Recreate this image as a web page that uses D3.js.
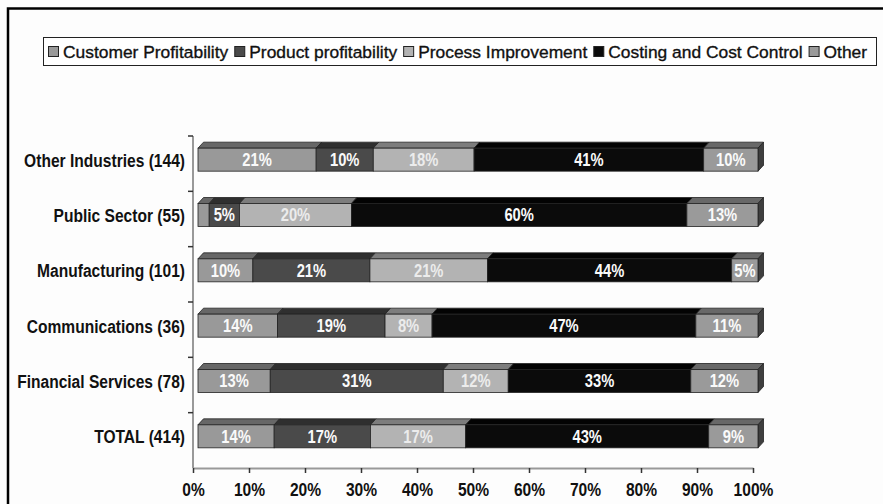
<!DOCTYPE html>
<html><head><meta charset="utf-8">
<script src="https://cdn.jsdelivr.net/npm/d3@7"></script>
<style>body{margin:0;background:#fff}svg{display:block}</style>
</head><body>
<svg id="c" width="883" height="504"></svg>
<script>
const categories = ["Other Industries (144)", "Public Sector (55)", "Manufacturing (101)", "Communications (36)", "Financial Services (78)", "TOTAL (414)"];
const seriesNames = ["Customer Profitability", "Product profitability", "Process Improvement", "Costing and Cost Control", "Other"];
const customer = [21.1, 2.0, 9.8, 14.2, 12.9, 13.6];
const product  = [10.2, 5.4, 20.9, 19.2, 30.9, 17.2];
const processI = [18.0, 20.0, 21.0, 8.4, 11.6, 17.0];
const costing  = [41.0, 59.9, 43.6, 47.1, 32.6, 43.4];
const other    = [9.7, 12.7, 4.7, 11.1, 12.0, 8.8];
const xTicks = [0, 10, 20, 30, 40, 50, 60, 70, 80, 90, 100];

const frontColors = ["#999999", "#4a4a4a", "#b3b3b3", "#0b0b0b", "#9a9a9a"];
const topColors   = ["#676767", "#2f2f2f", "#7d7d7d", "#030303", "#686868"];
const sideColor = "#3e3e3e";

const W = 883, H = 504;
const svg = d3.select("#c");
svg.append("rect").attr("width", W).attr("height", H).attr("fill", "#fdfdfd");
svg.append("rect").attr("x", 8).attr("y", 8.5).attr("width", W + 10).attr("height", H + 10)
  .attr("fill", "none").attr("stroke", "#000").attr("stroke-width", 2.5);

const sans = "'Liberation Sans',Arial,sans-serif";
const SQ = 0.82; // horizontal squeeze to mimic a narrow face

// Legend
const legend = svg.append("g");
legend.append("rect").attr("x", 43.5).attr("y", 37.5).attr("width", 833).attr("height", 28)
  .attr("fill", "#fff").attr("stroke", "#222").attr("stroke-width", 1);
let cx = 48;
seriesNames.forEach((name, i) => {
  legend.append("rect").attr("x", cx + 0.5).attr("y", 46.5).attr("width", 10).attr("height", 10)
    .attr("fill", frontColors[i]).attr("stroke", "#222").attr("stroke-width", 1);
  const t = legend.append("text").attr("x", cx + 15).attr("y", 57.5)
    .attr("font-family", sans).attr("font-size", 17.4).attr("fill", "#111")
    .attr("stroke", "#111").attr("stroke-width", 0.35)
    .text(name);
  cx = cx + 15 + t.node().getComputedTextLength() + 6;
});

// Scales
const x = d3.scaleLinear().domain([0, 100]).range([193, 753]);
const y = d3.scaleBand().domain(categories).range([136, 468]);
const dx = 5.5, dy = -6, faceOff = 5, faceH = 23;

const rows = categories.map((c, i) => ({cat: c, 0: customer[i], 1: product[i], 2: processI[i], 3: costing[i], 4: other[i]}));
const stacked = d3.stack().keys([0, 1, 2, 3, 4])(rows);

// Axes lines
svg.append("line").attr("x1", x(0)).attr("x2", x(0)).attr("y1", y.range()[0]).attr("y2", y.range()[1])
  .attr("stroke", "#999").attr("stroke-width", 2);
svg.append("g").selectAll("line").data(categories).join("line")
  .attr("x1", x(0) - 5).attr("x2", x(0)).attr("y1", d => y(d)).attr("y2", d => y(d))
  .attr("stroke", "#333").attr("stroke-width", 1.5);

const xAxis = svg.append("g").attr("transform", `translate(0,${y.range()[1]})`)
  .call(d3.axisBottom(x).tickValues(xTicks).tickFormat(d => d + "%").tickSize(5).tickSizeOuter(0).tickPadding(10));
xAxis.select(".domain").attr("stroke", "#999").attr("stroke-width", 2);
xAxis.selectAll(".tick line").attr("stroke", "#333").attr("stroke-width", 1.5);
xAxis.selectAll(".tick text").attr("font-family", sans).attr("font-weight", "bold")
  .attr("font-size", 19).attr("fill", "#111").attr("transform", `scale(${SQ},1)`);

// Category labels
svg.append("g").selectAll("text").data(categories).join("text")
  .attr("transform", d => `translate(185,${y(d) + y.bandwidth() / 2 - 4}) scale(${SQ},1)`)
  .attr("dy", "0.36em")
  .attr("text-anchor", "end").attr("font-family", sans).attr("font-weight", "bold")
  .attr("font-size", 19).attr("fill", "#111").text(d => d);

// Bars
const bars = svg.append("g");
const faceTop = c => y(c) + y.bandwidth() / 2 - 4 - faceH / 2;
stacked.forEach((ser, si) => {
  ser.forEach(d => {
    const c = d.data.cat;
    const x0 = x(d[0]) + faceOff, x1 = x(d[1]) + faceOff, t = faceTop(c), b = t + faceH;
    bars.append("path")
      .attr("d", `M${x0},${t}L${x0 + dx},${t + dy}L${x1 + dx},${t + dy}L${x1},${t}Z`)
      .attr("fill", topColors[si]).attr("stroke", "#222").attr("stroke-width", 0.8);
    if (si === 4) {
      bars.append("path")
        .attr("d", `M${x1},${t}L${x1 + dx},${t + dy}L${x1 + dx},${b + dy}L${x1},${b}Z`)
        .attr("fill", sideColor).attr("stroke", "#222").attr("stroke-width", 0.8);
    }
    bars.append("rect").attr("x", x0).attr("y", t).attr("width", x1 - x0).attr("height", faceH)
      .attr("fill", frontColors[si]).attr("stroke", "#222").attr("stroke-width", 0.8);
    const v = d[1] - d[0];
    if (v >= 3) {
      bars.append("text")
        .attr("transform", `translate(${(x0 + x1) / 2},${t + faceH / 2}) scale(${SQ},1)`)
        .attr("dy", "0.36em")
        .attr("text-anchor", "middle").attr("font-family", sans).attr("font-weight", "bold")
        .attr("font-size", 18).attr("fill", si === 2 ? "#ececec" : "#fafafa")
        .text(Math.round(v) + "%");
    }
  });
});
</script>
</body></html>
